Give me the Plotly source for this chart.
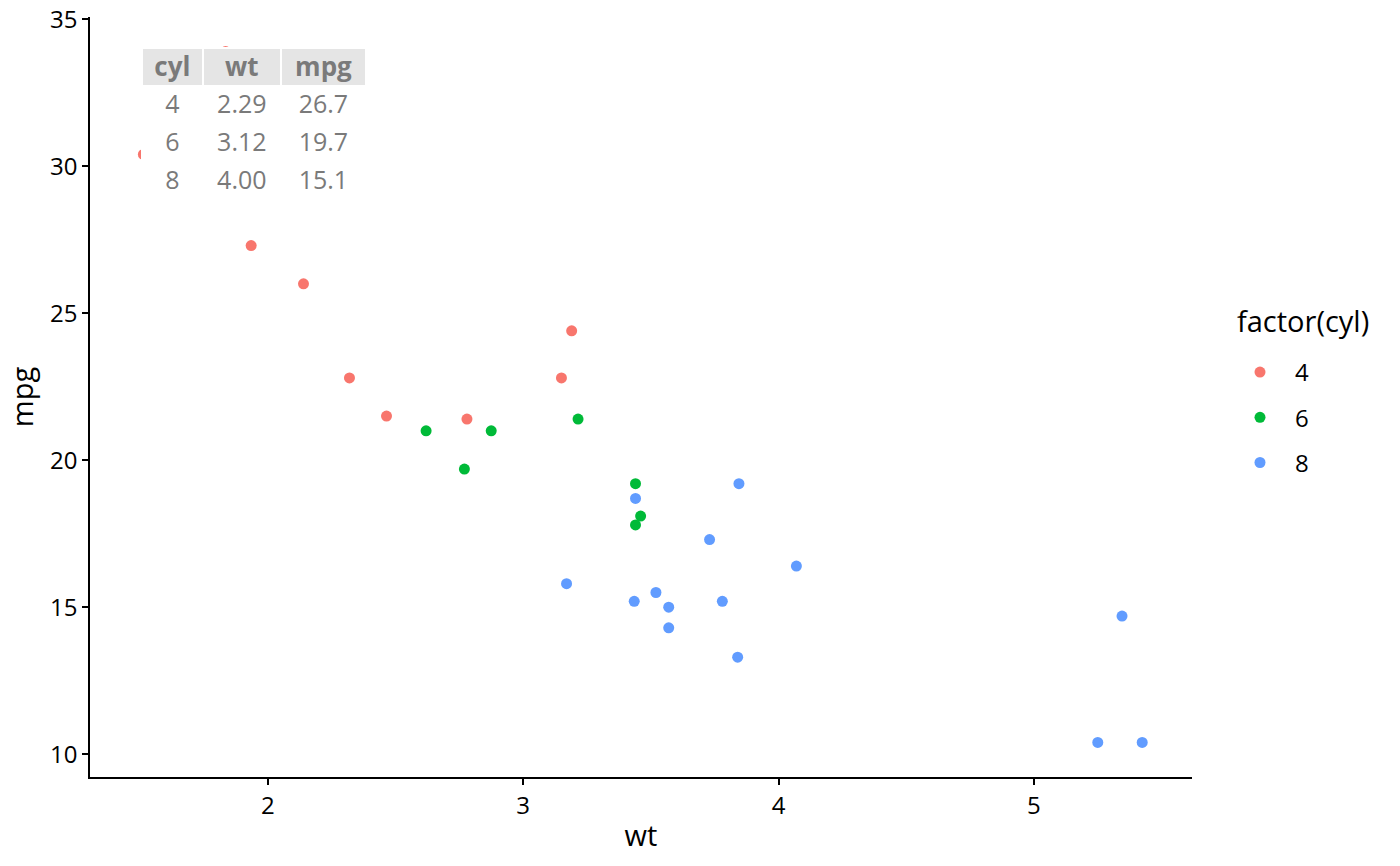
import plotly.graph_objects as go

# mtcars: weight, mpg, cylinders
wt = [2.620, 2.875, 2.320, 3.215, 3.440, 3.460, 3.570, 3.190, 3.150, 3.440, 3.440,
      4.070, 3.730, 3.780, 5.250, 5.424, 5.345, 2.200, 1.615, 1.835, 2.465, 3.520,
      3.435, 3.840, 3.845, 1.935, 2.140, 1.513, 3.170, 2.770, 3.570, 2.780]
mpg = [21.0, 21.0, 22.8, 21.4, 18.7, 18.1, 14.3, 24.4, 22.8, 19.2, 17.8,
       16.4, 17.3, 15.2, 10.4, 10.4, 14.7, 32.4, 30.4, 33.9, 21.5, 15.5,
       15.2, 13.3, 19.2, 27.3, 26.0, 30.4, 15.8, 19.7, 15.0, 21.4]
cyl = [6, 6, 4, 6, 8, 6, 8, 4, 4, 6, 6,
       8, 8, 8, 8, 8, 8, 4, 4, 4, 4, 8,
       8, 8, 8, 4, 4, 4, 8, 6, 8, 4]

groups = [4, 6, 8]
colors = {4: "#F8766D", 6: "#00BA38", 8: "#619CFF"}

# summary table
tbl_header = ["cyl", "wt", "mpg"]
tbl_cyl = ["4", "6", "8"]
tbl_wt = ["2.29", "3.12", "4.00"]
tbl_mpg = ["26.7", "19.7", "15.1"]

FONT = "Open Sans"
L, R, T, B = 90, 208, 17, 89
PW, PH = 1400 - L - R, 866 - T - B

fig = go.Figure()
for g in groups:
    xs = [w for w, c in zip(wt, cyl) if c == g]
    ys = [m for m, c in zip(mpg, cyl) if c == g]
    fig.add_trace(go.Scatter(
        x=xs, y=ys, mode="markers", name=str(g), legendgroup=str(g),
        marker=dict(color=colors[g], size=11, line=dict(width=0)),
    ))

fig.add_trace(go.Table(
    domain=dict(x=[(142 - L) / PW, (367 - L) / PW],
                y=[(866 - B - 202) / PH, (866 - B - 48) / PH]),
    columnwidth=[60, 77, 84],
    header=dict(values=tbl_header, fill_color="#E5E5E5",
                line=dict(color="white", width=2), align="center", height=38,
                font=dict(family=FONT, size=26, color="#7a7a7a", weight="bold")),
    cells=dict(values=[tbl_cyl, tbl_wt, tbl_mpg], fill_color="white",
               line=dict(color="white", width=2), align="center", height=38,
               font=dict(family=FONT, size=25, color="#7a7a7a")),
))

axis_common = dict(
    showgrid=False, zeroline=False, showline=True, linecolor="black", linewidth=1.6,
    ticks="outside", ticklen=6, tickwidth=1.6, tickcolor="black",
    tickfont=dict(family=FONT, size=24, color="black"),
    mirror=False, automargin=False,
)

fig.update_layout(
    width=1400, height=866,
    paper_bgcolor="white", plot_bgcolor="white",
    margin=dict(l=L, r=R, t=T, b=B, autoexpand=False),
    font=dict(family=FONT, color="black"),
    xaxis=dict(range=[1.304, 5.619], tickvals=[2, 3, 4, 5],
               title=dict(text="wt", font=dict(family=FONT, size=29), standoff=6),
               **axis_common),
    yaxis=dict(range=[9.225, 35.075], tickvals=[10, 15, 20, 25, 30, 35],
               title=dict(text="mpg", font=dict(family=FONT, size=29), standoff=8),
               **axis_common),
    legend=dict(
        font=dict(family=FONT, size=24),
        x=(1225 - L) / PW, y=(866 - B - 350) / PH, xanchor="left", yanchor="top",
        tracegroupgap=11, itemwidth=60,
    ),
    annotations=[dict(
        text="factor(cyl)", xref="paper", yref="paper",
        x=(1235 - L) / PW, y=(866 - B - 320) / PH, xanchor="left", yanchor="middle",
        showarrow=False, font=dict(family=FONT, size=29, color="black"),
    )],
    showlegend=True,
)

fig.write_html("out.html", config={"displayModeBar": False},
               post_script="document.body.style.margin='0';")
